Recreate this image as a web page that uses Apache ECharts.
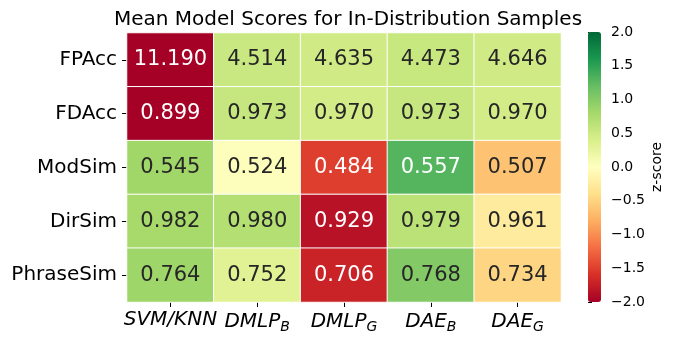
<!DOCTYPE html>
<html><head><meta charset="utf-8">
<script src="https://cdn.jsdelivr.net/npm/echarts@6/dist/echarts.min.js"></script>
<style>html,body{margin:0;padding:0;background:#fff}#c{width:674px;height:343px}</style>
</head><body><div id="c"></div>
<script>
const models = ['SVM/KNN', 'DMLP_B', 'DMLP_G', 'DAE_B', 'DAE_G'];
const metrics = ['FPAcc', 'FDAcc', 'ModSim', 'DirSim', 'PhraseSim'];
const fpacc     = [11.190, 4.514, 4.635, 4.473, 4.646];
const fdacc     = [0.899, 0.973, 0.970, 0.973, 0.970];
const modsim    = [0.545, 0.524, 0.484, 0.557, 0.507];
const dirsim    = [0.982, 0.980, 0.929, 0.979, 0.961];
const phrasesim = [0.764, 0.752, 0.706, 0.768, 0.734];
// z-scores (colour) per cell, row by row
const zFpacc     = [-2.00, 0.52, 0.47, 0.54, 0.47];
const zFdacc     = [-2.00, 0.55, 0.45, 0.55, 0.45];
const zModsim    = [0.83, 0.02, -1.51, 1.29, -0.63];
const zDirsim    = [0.79, 0.69, -1.85, 0.64, -0.26];
const zPhrasesim = [0.85, 0.32, -1.71, 1.02, -0.48];

const values = [fpacc, fdacc, modsim, dirsim, phrasesim];
const zs = [zFpacc, zFdacc, zModsim, zDirsim, zPhrasesim];
const data = [];
for (let r = 0; r < metrics.length; r++) {
  for (let c = 0; c < models.length; c++) {
    const z = zs[r][c];
    data.push({
      value: [c, r, z, values[r][c]],
      label: { color: Math.abs(z) > 1.15 ? '#ffffff' : '#262626' }
    });
  }
}
const RdYlGn = ['#a50026','#d73027','#f46d43','#fdae61','#fee08b','#ffffbf','#d9ef8b','#a6d96a','#66bd63','#1a9850','#006837'];

function xFmt(v) {
  const p = v.split('_');
  if (p.length === 1) return '{m|' + v + '}';
  return '{m|' + p[0] + '}{s|' + p[1] + '}';
}
const font = 'DejaVu Sans';
const chart = echarts.init(document.getElementById('c'), null, {renderer: 'canvas'});
chart.setOption({
  animation: false,
  backgroundColor: '#fff',
  title: {
    text: 'Mean Model Scores for In-Distribution Samples',
    left: 343, top: 5, textAlign: 'center',
    textStyle: { fontFamily: font, fontSize: 20, fontWeight: 'normal', color: '#000' }
  },
  grid: [
    { left: 127, right: 113, top: 33, bottom: 41 },
    { left: 588, width: 13, top: 32, height: 270 }
  ],
  xAxis: [
    {
      type: 'category', data: models, gridIndex: 0,
      axisLine: { show: false },
      axisTick: { show: true, alignWithLabel: true, length: 5, lineStyle: { color: '#000' } },
      splitLine: { show: false },
      axisLabel: {
        interval: 0, margin: 8, formatter: xFmt, color: '#000',
        rich: {
          m: { fontFamily: font, fontStyle: 'italic', fontSize: 20, color: '#000' },
          s: { fontFamily: font, fontStyle: 'italic', fontSize: 14, color: '#000', verticalAlign: 'bottom', padding: [10, 0, 0, 0] }
        }
      }
    },
    { type: 'value', gridIndex: 1, show: false, min: 0, max: 1 }
  ],
  yAxis: [
    {
      type: 'category', data: metrics, inverse: true, gridIndex: 0,
      axisLine: { show: false },
      axisTick: { show: true, alignWithLabel: true, length: 5, lineStyle: { color: '#000' } },
      axisLabel: { interval: 0, margin: 10, fontFamily: font, fontSize: 20, color: '#000' }
    },
    {
      type: 'value', gridIndex: 1, position: 'right', min: -2, max: 2, interval: 0.5,
      axisLine: { show: false },
      splitLine: { show: false },
      axisTick: { show: true, length: 4, lineStyle: { color: '#000' } },
      axisLabel: {
        margin: 10, fontFamily: font, fontSize: 14, color: '#000',
        formatter: v => v.toFixed(1).replace('-', '\u2212')
      },
      name: 'z-score', nameLocation: 'middle', nameRotate: 90, nameGap: 49,
      nameTextStyle: { fontFamily: font, fontSize: 14, color: '#000' }
    }
  ],
  visualMap: {
    type: 'continuous', min: -2, max: 2, dimension: 2, seriesIndex: 0,
    calculable: false, orient: 'vertical', left: 588, top: 32,
    itemWidth: 13, itemHeight: 270, padding: 0, text: null, showLabel: false,
    inRange: { color: RdYlGn }, hoverLink: false
  },
  series: [{
    type: 'heatmap', xAxisIndex: 0, yAxisIndex: 0, data: data,
    itemStyle: { borderColor: '#ffffff', borderWidth: 1 },
    label: {
      show: true, fontFamily: font, fontSize: 21,
      formatter: p => p.value[3].toFixed(3)
    },
    emphasis: { disabled: true }
  }]
});
</script></body></html>
